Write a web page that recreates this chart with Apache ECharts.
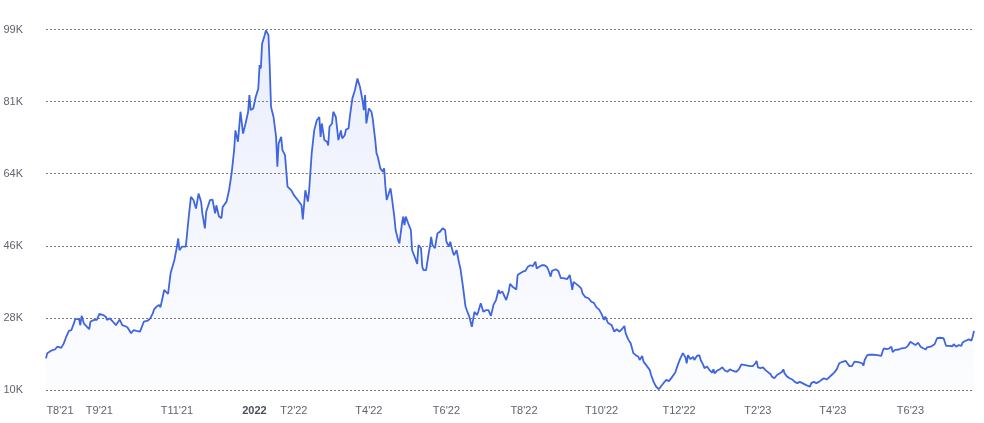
<!DOCTYPE html>
<html>
<head>
<meta charset="utf-8">
<script src="https://cdn.jsdelivr.net/npm/echarts@6/dist/echarts.min.js"></script>
<style>
html,body{margin:0;padding:0;background:#fff;}
#chart{width:984px;height:423px;}
</style>
</head>
<body>
<div id="chart"></div>
<script>
// Start date of the series; `days` are day offsets from it
const startDate = [2021, 6, 21]; // 2021-07-21 (month 0-based)

const days = [0,1,4,7,9,12,14,16,18,20,22,23,26,27,28,30,31,34,35,38,40,42,45,47,48,50,52,55,58,60,62,64,67,69,71,74,77,80,82,84,85,87,89,90,91,93,96,98,101,103,104,105,107,110,112,114,116,118,120,122,123,125,126,129,131,133,134,136,138,139,142,144,146,148,149,151,153,155,157,159,160,161,163,165,167,168,169,170,172,173,175,176,177,179,181,182,183,185,186,188,190,193,195,198,201,202,204,206,207,209,211,213,215,216,217,219,221,222,223,225,226,228,230,232,233,235,236,238,239,241,243,245,247,249,250,251,252,254,256,257,259,260,261,263,265,266,267,268,270,271,272,274,275,277,278,280,281,282,283,285,287,288,290,292,293,295,296,297,299,301,302,303,304,306,307,308,310,312,314,315,317,318,320,321,323,324,325,326,328,330,332,333,335,337,339,340,342,344,346,348,350,352,354,356,357,359,362,364,365,367,370,371,373,375,377,379,381,383,385,386,388,390,392,394,395,397,398,401,403,405,407,410,412,413,414,415,417,419,421,422,424,427,429,431,433,435,437,439,440,442,445,447,449,451,453,455,456,458,460,462,464,466,467,469,470,472,475,476,478,480,482,484,486,488,490,492,493,495,497,499,501,503,504,505,507,509,510,512,514,515,517,518,520,522,524,525,526,528,530,532,534,536,538,540,543,545,547,549,551,554,556,558,559,560,562,564,566,567,570,571,573,575,577,579,580,581,583,585,587,589,591,593,595,596,598,601,602,604,606,608,610,612,614,616,618,620,622,624,626,629,630,632,634,636,639,642,643,644,646,648,651,654,657,658,659,661,663,665,666,668,671,673,676,678,680,682,684,686,688,690,692,693,696,699,701,703,706,707,708,710,713,714,716,718,720,721,723,726,728,729,730];

// Values in thousands
const values = [18.0,19.3,19.9,20.2,20.9,20.6,21.7,23.4,24.8,25.0,26.7,27.7,27.7,26.2,28.5,26.5,26.8,25.2,27.1,27.5,27.5,29.0,28.7,28.3,27.5,27.9,27.3,26.2,27.6,26.2,26.0,25.7,24.2,25.0,24.8,24.6,27.1,27.3,27.9,29.1,30.1,30.8,31.2,30.6,32.0,34.9,33.9,39.0,42.3,45.6,47.6,44.7,45.6,45.6,52.1,57.9,57.1,55.0,58.7,56.7,53.8,50.1,54.2,57.1,57.2,53.8,55.8,53.1,52.6,55.4,56.7,59.5,63.7,69.4,74.3,71.5,78.9,73.5,76.0,78.9,83.0,79.3,79.7,82.6,84.6,90.4,89.6,95.7,97.8,99.0,97.8,90.0,80.1,77.6,72.7,65.3,71.1,72.7,69.4,68.2,60.4,59.5,58.3,57.1,55.8,52.3,59.5,56.7,59.5,68.6,74.3,76.8,77.6,72.7,76.0,71.9,71.5,70.6,75.2,76.0,78.9,77.6,71.9,74.3,72.3,73.1,74.5,74.8,77.6,82.2,84.2,87.1,85.0,81.7,79.3,83.0,76.0,79.7,78.9,77.2,71.9,68.6,67.8,64.9,64.1,64.9,60.4,57.1,59.1,60.0,57.9,53.0,49.7,47.2,46.4,51.3,53.0,50.9,53.0,51.3,49.7,44.7,43.1,41.3,46.0,45.2,40.6,39.8,39.8,43.9,45.6,48.0,46.0,45.2,47.2,48.9,49.3,50.1,49.7,46.8,45.6,46.8,44.3,43.5,44.7,43.1,41.5,40.2,35.7,30.8,29.1,28.3,25.8,29.5,28.7,29.5,31.6,29.5,29.9,29.9,28.5,31.2,32.4,34.9,34.1,34.5,32.4,34.5,36.4,35.7,35.0,38.6,39.0,39.4,39.6,40.6,41.0,40.8,41.9,40.2,40.6,41.0,41.0,40.6,40.0,38.2,39.6,40.0,39.6,37.8,37.8,37.6,38.6,36.9,34.9,36.9,36.4,35.9,35.3,34.1,33.2,32.8,32.0,31.7,30.6,30.1,29.0,27.5,28.3,26.8,26.2,24.6,25.2,24.6,25.2,26.0,24.2,22.7,21.7,19.3,18.8,18.4,17.6,18.6,17.2,16.4,15.1,13.9,12.2,11.0,10.4,11.2,12.0,12.7,12.4,13.2,13.5,14.5,16.4,18.0,19.3,18.3,16.8,18.8,17.8,18.4,17.6,18.6,18.8,17.6,16.4,15.6,16.0,15.1,14.5,15.3,14.3,15.0,15.3,15.8,15.0,14.7,15.3,15.0,14.7,15.3,16.5,16.4,16.3,16.1,16.1,16.8,17.4,15.8,15.6,15.8,15.1,14.7,14.1,13.5,13.1,13.9,14.3,14.7,15.3,14.3,13.5,13.1,12.8,12.2,11.9,12.2,11.9,11.7,11.4,11.0,11.9,12.2,11.9,12.2,12.7,13.1,12.8,13.3,13.9,14.5,15.3,16.8,17.1,17.4,17.4,16.1,16.1,17.2,17.1,16.8,16.2,17.6,18.8,18.9,18.9,18.8,18.6,19.6,20.5,20.3,20.4,20.9,19.6,20.1,20.2,20.5,20.6,21.1,22.1,21.7,21.3,21.9,20.9,20.5,20.2,20.7,20.9,21.5,23.0,23.1,23.0,22.1,21.1,21.1,21.0,21.5,20.9,21.3,21.1,21.9,22.3,22.7,22.4,23.4,24.8];

// X-axis label dates [year, month(1-12)]
const xTickMonths = [[2021,8],[2021,9],[2021,11],[2022,1],[2022,2],[2022,4],[2022,6],[2022,8],[2022,10],[2022,12],[2023,2],[2023,4],[2023,6]];

// Y-axis tick values (thousands)
const yTicks = [10.2, 28.0, 45.8, 63.6, 81.4, 99.2];
const yMin = 10.2, yMax = 99.2;

const DAY = 86400000;
const startTs = Date.UTC(startDate[0], startDate[1], startDate[2]);
const dayOf = (y, m) => Math.round((Date.UTC(y, m - 1, 1) - startTs) / DAY);
const xTicks = xTickMonths.map(([y, m]) => dayOf(y, m));
const seriesData = days.map((d, i) => [d, values[i]]);

const chart = echarts.init(document.getElementById('chart'), null, {renderer: 'canvas'});
const fontFamily = "'Liberation Sans', Arial, sans-serif";

chart.setOption({
  animation: false,
  backgroundColor: '#ffffff',
  grid: {left: 46, right: 10, top: 29.5, bottom: 33, containLabel: false},
  xAxis: {
    type: 'value',
    min: days[0],
    max: days[days.length - 1],
    axisLine: {show: false},
    axisTick: {show: false, customValues: xTicks},
    splitLine: {show: false},
    axisLabel: {
      customValues: xTicks,
      margin: 15,
      fontSize: 11,
      fontFamily: fontFamily,
      color: '#5f6470',
      hideOverlap: false,
      showMinLabel: true,
      showMaxLabel: true,
      formatter: function (val) {
        const dt = new Date(startTs + Math.round(val) * DAY);
        const m = dt.getUTCMonth() + 1;
        const y = dt.getUTCFullYear();
        if (m === 1) return '{b|' + y + '}';
        return 'T' + m + "'" + String(y).slice(2);
      },
      rich: {
        b: {fontWeight: 'bold', fontSize: 11, fontFamily: fontFamily, color: '#4a4f5a'}
      }
    }
  },
  yAxis: {
    type: 'value',
    min: yMin,
    max: yMax,
    axisLine: {show: false},
    axisTick: {show: false, customValues: yTicks},
    axisLabel: {
      customValues: yTicks,
      margin: 23,
      fontSize: 11,
      fontFamily: fontFamily,
      color: '#5f6470',
      formatter: function (v) { return Math.round(v) + 'K'; }
    },
    splitLine: {show: true, lineStyle: {type: [2, 2], color: '#7a7a7a', width: 1}}
  },
  series: [{
    type: 'line',
    data: seriesData,
    showSymbol: false,
    symbol: 'none',
    smooth: false,
    lineStyle: {color: '#3f66e0', width: 1.8},
    itemStyle: {color: '#3f66e0'},
    areaStyle: {
      color: new echarts.graphic.LinearGradient(0, 0, 0, 1, [
        {offset: 0, color: 'rgba(65,105,225,0.16)'},
        {offset: 1, color: 'rgba(65,105,225,0.02)'}
      ])
    }
  }]
});
</script>
</body>
</html>
